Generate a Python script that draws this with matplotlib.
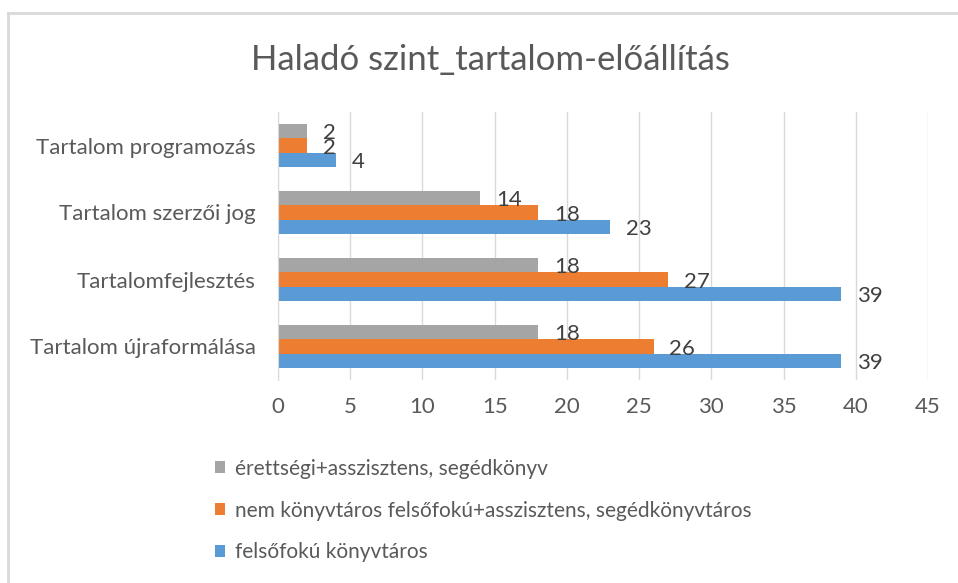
import matplotlib.pyplot as plt
from matplotlib.lines import Line2D
import numpy as np

plt.rcParams['font.family'] = ['Lato', 'DejaVu Sans']

categories = ['Tartalom programozás', 'Tartalom szerzői jog',
              'Tartalomfejlesztés', 'Tartalom újraformálása']
series_names = ['érettségi+asszisztens, segédkönyv',
                'nem könyvtáros felsőfokú+asszisztens, segédkönyvtáros',
                'felsőfokú könyvtáros']
erettsegi = [2, 14, 18, 18]
nem_konyvtaros = [2, 18, 27, 26]
felsofoku = [4, 23, 39, 39]
xticks = [0, 5, 10, 15, 20, 25, 30, 35, 40, 45]

colors = ['#A5A5A5', '#ED7D31', '#5B9BD5']
txt = '#595959'

fig = plt.figure(figsize=(9.58, 5.83), dpi=100)
ax = fig.add_axes([278 / 958, 1 - 380 / 583, 650 / 958, 268 / 583])

y = np.arange(len(categories))
h = 0.21
bars = []
for i, (vals, col, name) in enumerate(zip([erettsegi, nem_konyvtaros, felsofoku], colors, series_names)):
    b = ax.barh(y + (i - 1) * h, vals, height=h, color=col, label=name, zorder=2)
    bars.append(b)
    for yy, v in zip(y + (i - 1) * h, vals):
        ax.text(v + 1.1, yy + 0.03, str(v), va='center', ha='left', fontsize=16, color='#404040', zorder=3)

ax.set_xlim(0, 45)
ax.set_ylim(3.5, -0.5)
ax.set_xticks(xticks)
ax.set_yticks(y)
ax.set_yticklabels(categories)
ax.tick_params(axis='y', length=0, labelsize=16, labelcolor=txt, pad=16)
ax.tick_params(axis='x', length=0, labelsize=16, labelcolor=txt, pad=12)
ax.grid(axis='x', color='#D9D9D9', linewidth=1, zorder=0)
for s in ['top', 'right', 'bottom']:
    ax.spines[s].set_visible(False)
ax.spines['left'].set_color('#D9D9D9')

fig.suptitle('Haladó szint_tartalom-előállítás', x=490 / 958, y=1 - 60 / 583,
             va='center', fontsize=25, color=txt)

fig.legend(handles=bars, labels=series_names, loc='upper left',
           bbox_to_anchor=(196 / 958, 1 - 440 / 583), frameon=False,
           fontsize=15, labelcolor=txt, handlelength=0.5, handleheight=0.5,
           handletextpad=0.45, labelspacing=1.05)

# chart border (top and left visible)
fig.add_artist(Line2D([8 / 958, 1], [1 - 13 / 583, 1 - 13 / 583], color='#D9D9D9', lw=2))
fig.add_artist(Line2D([8 / 958, 8 / 958], [0, 1 - 13 / 583], color='#D9D9D9', lw=2))

fig.savefig('out.png', dpi=100)
